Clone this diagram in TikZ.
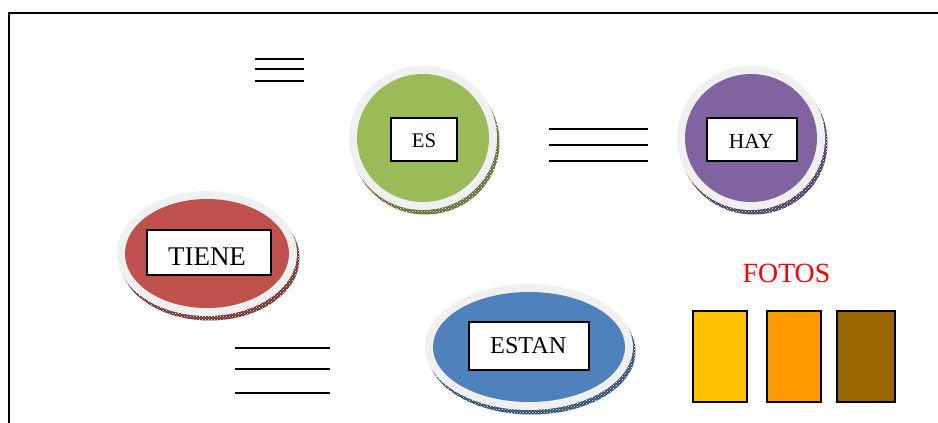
\documentclass[tikz,border=0pt]{standalone}
\usepackage{fontspec}
\setmainfont{Liberation Serif}
\usetikzlibrary{patterns}
\definecolor{ringc}{HTML}{F0F0F0}
\definecolor{esc}{HTML}{9BBB59}
\definecolor{hayc}{HTML}{8064A2}
\definecolor{tienec}{HTML}{C0504D}
\definecolor{estanc}{HTML}{4F81BD}
\definecolor{fa}{HTML}{FFC000}
\definecolor{fb}{HTML}{FF9900}
\definecolor{fc}{HTML}{996600}
\tikzset{
  x=1pt,y=-1pt,
  frameline/.style={line width=2pt,black},
  rule/.style={line width=1.5pt,black},
  labelbox/.style={draw=black,line width=1.6pt,fill=white,inner sep=0pt,align=center},
  swatch/.style={draw=black,line width=1.6pt,inner sep=0pt,minimum width=0pt},
}
% centre x, centre y, inner rx, inner ry, colour, dark shade
\newcommand{\discshape}[6]{%
  \fill[#6] (#1+2.5,#2+4.5) ellipse [x radius=#3+8,y radius=#4+8];
  \fill[pattern=crosshatch dots,pattern color=white] (#1+2.5,#2+4.5) ellipse [x radius=#3+8,y radius=#4+8];
  \fill[ringc] (#1,#2) ellipse [x radius=#3+8,y radius=#4+8];
  \fill[#5] (#1,#2) ellipse [x radius=#3,y radius=#4];
}
\begin{document}
\begin{tikzpicture}
\useasboundingbox (0,0) rectangle (938,423);
\fill[white] (0,0) rectangle (938,423);
\coordinate (fa1) at (8.5,423);
\coordinate (fa2) at (8.5,13);
\coordinate (fa3) at (938,13);
\draw[frameline] (fa1) -- (fa2) -- (fa3);

\discshape{423}{138}{66}{64}{esc}{esc!60!black}
\discshape{751}{138}{66}{64}{hayc}{hayc!60!black}
\discshape{207}{253.5}{82}{54.5}{tienec}{tienec!60!black}
\discshape{529}{347}{96}{55}{estanc}{estanc!60!black}

\node[labelbox,minimum width=66pt,minimum height=43pt,text height=16.7pt,text depth=0pt,font=\fontsize{20.8}{24}\selectfont] (es) at (424,139.5) {ES};
\node[labelbox,minimum width=90pt,minimum height=43pt,text height=17.2pt,text depth=0pt,font=\fontsize{21.5}{24}\selectfont] (hay) at (752,139.5) {HAY\hspace{1.5pt}};
\node[labelbox,minimum width=124pt,minimum height=45pt,text height=25pt,text depth=0pt,font=\fontsize{27}{30}\selectfont] (tiene) at (209,252.5) {TIENE\hspace{4pt}};
\node[labelbox,minimum width=120pt,minimum height=48pt,font=\fontsize{24.2}{28}\selectfont] (estan) at (529,346) {ESTAN\hspace{1.5pt}};

\foreach \y in {59,69,81} \draw[rule] (254.5,\y) -- (303.5,\y);
\foreach \y in {129,145,161} \draw[rule] (548.5,\y) -- (647.5,\y);
\foreach \y in {348,369,393} \draw[rule] (234.5,\y) -- (329.5,\y);

\node[text=red,inner sep=0pt,font=\fontsize{27.8}{32}\selectfont] (fotos) at (786.5,273) {FOTOS};
\node[swatch,fill=fa,minimum width=54pt,minimum height=91pt] (f1) at (720,356.5) {};
\node[swatch,fill=fb,minimum width=54pt,minimum height=91pt] (f2) at (794,356.5) {};
\node[swatch,fill=fc,minimum width=58pt,minimum height=91pt] (f3) at (866,356.5) {};
\end{tikzpicture}
\end{document}
